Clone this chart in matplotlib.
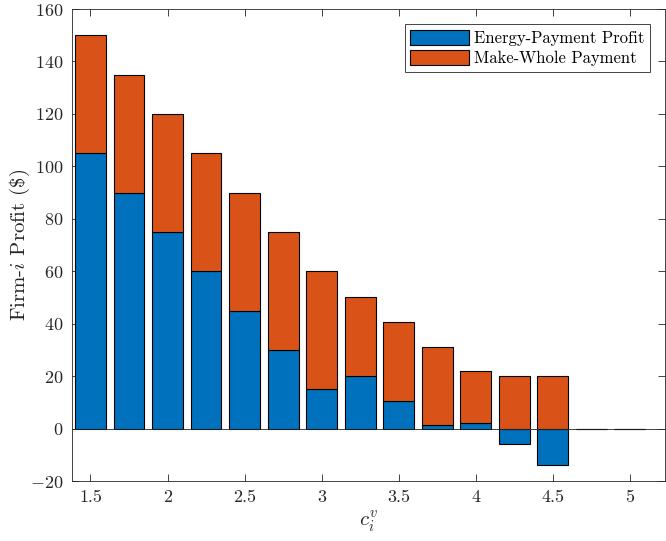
import matplotlib
matplotlib.use("Agg")
import matplotlib.pyplot as plt
import numpy as np

plt.rcParams["font.family"] = "serif"
plt.rcParams["font.serif"] = ["cmr10", "DejaVu Serif"]
plt.rcParams["mathtext.fontset"] = "cm"
plt.rcParams["axes.formatter.use_mathtext"] = True
plt.rcParams["axes.unicode_minus"] = False

# variable cost of firm i and the two profit components
cost = [1.5, 1.75, 2.0, 2.25, 2.5, 2.75, 3.0, 3.25, 3.5, 3.75, 4.0, 4.25, 4.5, 4.75, 5.0]
energy_profit = [105, 90, 75, 60, 45, 30, 15, 20, 10.5, 1.2, 2, -6, -14, 0, 0]
make_whole = [45, 45, 45, 45, 45, 45, 45, 30, 30, 30, 20, 20, 20, 0, 0]

blue = "#0072BD"
orange = "#D95319"
axc = "#262626"

fig = plt.figure(figsize=(6.66, 5.41), dpi=100)
ax = fig.add_axes([72 / 666, 60 / 541, 593 / 666, 472 / 541])

x = np.array(cost)
e = np.array(energy_profit, dtype=float)
m = np.array(make_whole, dtype=float)
width = 0.2

# negative energy profit goes below zero, make-whole stacks from the positive part
ax.bar(x, e, width, color=blue, edgecolor="k", linewidth=0.8,
       label="Energy-Payment Profit", zorder=2)
ax.bar(x, m, width, bottom=np.where(e > 0, e, 0), color=orange, edgecolor="k",
       linewidth=0.8, label="Make-Whole Payment", zorder=2)
ax.axhline(0, color=axc, linewidth=0.6, zorder=3)

ax.set_xlim(1.38, 5.228)
ax.set_ylim(-20, 160)
ax.set_xticks([1.5, 2, 2.5, 3, 3.5, 4, 4.5, 5])
ax.set_xticklabels(["1.5", "2", "2.5", "3", "3.5", "4", "4.5", "5"])
ax.set_yticks(np.arange(-20, 161, 20))

ax.tick_params(direction="in", length=5, width=0.6, color=axc, labelsize=13,
               labelcolor=axc, top=True, right=True, pad=6)
for s in ax.spines.values():
    s.set_color(axc)
    s.set_linewidth(0.6)

ax.set_ylabel(r"Firm-$i$ Profit (\$)", fontsize=15, color=axc)
ax.yaxis.set_label_coords(-0.068, 0.5)
ax.set_xlabel(r"$c_i^v$", fontsize=15, color=axc, labelpad=3)

leg = ax.legend(loc="upper right", fontsize=12, handlelength=3.5, handleheight=1.0,
                fancybox=False, framealpha=1, borderaxespad=0.9,
                borderpad=0.35, labelspacing=0.25, handletextpad=0.3)
leg.get_frame().set_edgecolor(axc)
leg.get_frame().set_linewidth(0.6)

fig.savefig("out.png", dpi=100)
